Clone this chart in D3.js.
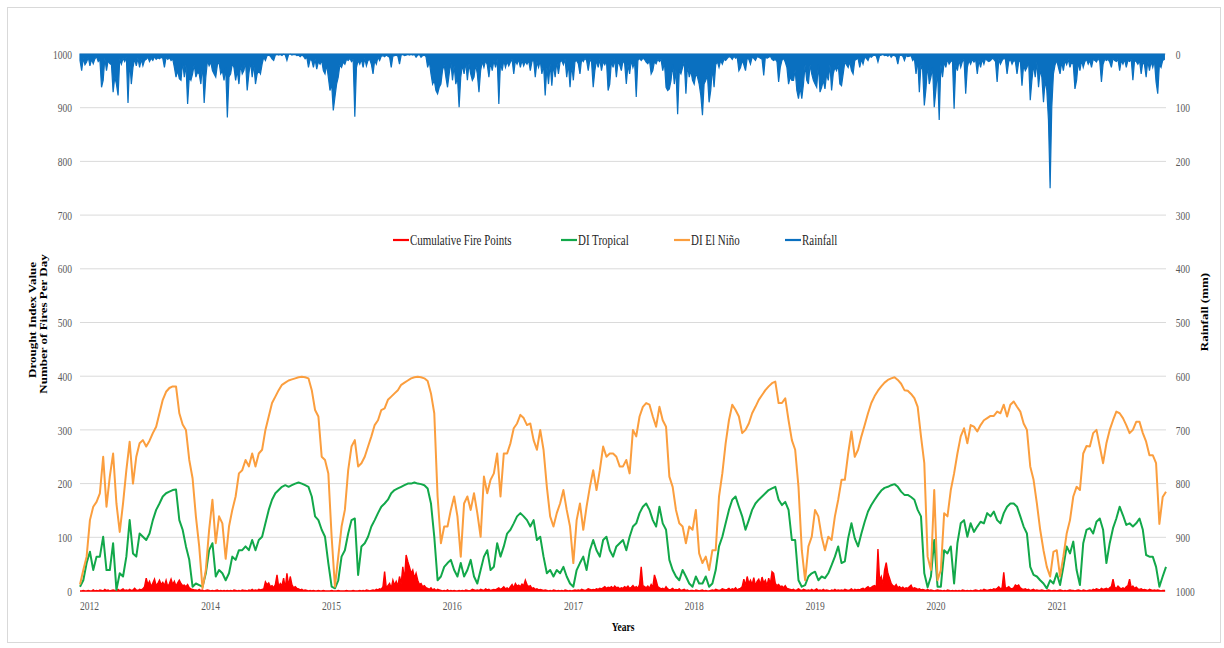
<!DOCTYPE html>
<html>
<head>
<meta charset="utf-8">
<style>
  body { margin: 0; background: #fff; }
  text { font-family: "Liberation Serif", "Times New Roman", serif; }
</style>
</head>
<body>
<svg width="1224" height="648"></svg>
<script src="https://cdnjs.cloudflare.com/ajax/libs/d3/7.8.5/d3.min.js"></script>
<script>
// series start and sampling steps (days)
var startDate = new Date(2012, 11, 4);
var diStep = 10;
var dailyStep = 5;

// drought index, read every 10 days
var diElNino = [
  12,39,64,132,157,166,182,250,157,213, 256,163,110,163,225,278,200,250,275,281,
  269,280,294,306,331,356,371,378,381,381, 331,310,300,244,210,139,83,5,39,114,
  170,89,139,126,60,120,151,176,219,225, 244,232,256,232,256,263,300,325,350,362,
  374,384,388,392,394,396,398,399,398,396, 374,337,325,250,244,219,101,8,64,120,
  151,225,269,281,232,238,250,269,288,309, 318,337,340,356,362,368,374,384,388,392,
  396,398,399,398,396,391,368,331,176,89,120,
  120,151,176,139,64,163,176,151,182,145, 101,213,182,207,219,256,176,256,256,275,
  303,312,328,322,309,312,281,263,300,263, 194,139,120,145,163,188,151,120,52,132,
  163,114,157,194,225,188,225,269,250,256, 256,250,232,232,244,219,300,288,325,343,
  350,347,325,306,343,318,306,213,194,151, 126,120,89,120,114,151,70,52,64,39,
  76,76,176,219,275,318,347,337,325,294, 300,312,331,343,356,365,374,381,387,390,
  350,350,359,318,281,263,194,76,20,83,
  101,151,139,101,76,101,95,139,170,207, 207,256,297,250,263,288,309,331,350,363,
  373,381,388,393,396,398,393,386,374,373, 367,359,343,288,238,64,39,188,20,39,
  145,139,188,219,256,288,303,275,309,306, 297,309,318,322,326,326,334,331,347,325,
  347,353,343,334,312,300,232,207,163,114, 76,45,27,73,76,27,64,107,132,176,
  194,188,256,270,269,294,300,269,238,275, 300,318,334,331,322,309,294,300,315,315,
  294,278,253,253,238,125,175,185
];
var diTropical = [
  8,20,52,73,39,64,64,101,39,39, 89,2,33,27,64,132,70,64,107,101,
  95,107,132,151,163,176,182,185,188,189, 132,114,83,58,8,14,11,8,33,76,
  89,27,39,33,20,33,64,58,76,76, 83,76,95,76,95,101,126,151,170,182,
  188,194,197,194,197,200,202,200,197,194, 176,139,132,114,101,52,8,5,20,64,
  76,107,132,135,30,83,89,101,120,132, 145,157,163,170,182,188,191,194,197,200,
  200,202,200,199,197,191,163,101,20,27,45,
  52,58,39,27,52,27,39,58,27,14, 39,64,76,39,45,89,64,83,107,114,
  126,139,145,139,132,120,132,95,101,64, 33,39,27,39,33,45,27,14,8,39,
  52,64,39,76,95,76,64,95,101,76, 64,83,89,95,76,101,120,126,145,157,
  163,151,132,120,157,126,114,58,39,27, 20,39,27,14,8,27,14,14,27,8,
  14,39,83,101,126,151,170,176,157,139, 114,132,151,163,170,176,182,188,191,194,
  170,160,166,151,95,95,20,8,11,27,
  33,36,20,27,24,33,48,64,83,52, 55,98,126,98,83,107,129,148,160,170,
  179,187,192,194,197,199,194,185,179,179, 175,170,151,139,33,7,27,95,8,8,
  76,70,83,14,89,126,132,101,126,110, 120,129,126,145,139,148,132,126,145,157,
  163,163,157,139,120,107,45,30,27,20, 14,5,20,14,33,11,45,83,70,92,
  39,11,89,114,117,107,129,135,114,52, 89,117,135,157,141,123,126,120,126,135,
  114,67,64,64,45,8,27,45
];

// rainfall (mm), read every 5 days
var rainfall = [
  12,31,8,20,15,6,22,10,18,9, 5,14,10,62,49,8,31,12,18,20, 71,43,56,77,10,19,8,14,6,91,
  12,56,25,9,22,8,25,10,22,12, 10,6,14,8,12,5,10,7,9,6, 8,25,6,10,7,12,9,25,43,31,
  46,49,15,43,20,93,43,49,37,20, 43,34,37,56,20,91,43,12,22,15, 31,37,43,20,15,37,31,49,25,118,
  43,37,18,25,49,31,56,20,37,31, 15,68,37,14,43,20,56,37,31,37, 19,6,12,3,2,4,9,12,2,1,
  2,1,3,0,2,12,1,0,2,1, 1,3,2,5,2,4,9,6,25,10, 12,25,10,28,14,19,12,31,37,20,
  43,68,56,105,80,56,43,20,25,15, 19,10,12,8,14,10,117,25,12,19, 10,25,8,22,12,10,19,37,12,19,
  6,12,4,3,5,2,4,6,25,4, 3,2,4,19,2,1,3,2,1,2, 1,2,1,6,2,1,6,3,2,5,
  25,14,37,56,49,68,74,62,56,30, 20,43,62,37,15,49,22,56,43,99, 43,20,37,15,49,18,37,49,43,20,
  37,71,31,14,25,12,20,43,15,31, 12,25,10,93,15,31,12,25,14,22, 15,10,37,12,19,10,25,12,22,14,
  19,12,31,14,10,43,15,25,12,37, 20,77,25,56,18,59,20,43,15,37, 15,12,20,10,43,18,62,20,49,14,
  12,18,37,10,14,8,12,31,10,15, 62,31,12,25,10,31,14,20,12,68, 56,14,25,10,43,15,20,31,12,18,
  56,20,37,12,25,15,80,12,8,12, 8,10,15,18,12,37,31,14,18,10, 14,10,31,15,62,68,65,49,20,56,
  30,112,31,37,25,15,74,20,43,31, 49,56,37,43,56,77,114,56,49,40, 90,68,25,62,20,14,25,12,19,10,
  12,8,5,6,10,4,8,6,31,25, 12,20,31,8,10,19,6,8,12,5, 6,8,10,40,5,8,6,4,10,12,
  10,14,52,25,12,8,15,25,56,43, 49,49,30,68,83,62,83,56,20,49, 56,20,37,49,56,62,20,71,62,49,
  65,37,49,20,68,37,25,31,20,56, 59,37,15,20,25,14,31,37,12,10, 8,25,10,19,6,8,12,4,6,3,
  2,4,15,3,2,1,3,2,4,1, 6,2,3,5,19,3,2,4,12,3, 5,4,3,12,8,37,10,71,20,30,
  96,65,20,56,43,25,99,68,30,123, 20,43,15,25,10,19,14,12,102,20, 31,12,25,14,10,74,25,12,19,10,
  15,10,37,12,25,10,19,8,12,14, 12,8,10,14,52,10,19,12,8,10, 37,14,10,19,12,14,37,15,12,59,
  20,31,25,14,86,49,20,43,15,62, 30,43,90,49,68,123,250,99,37,20, 12,25,37,15,31,12,20,10,25,14,
  20,65,49,15,31,12,25,14,10,19, 12,25,10,12,15,8,14,52,19,10, 12,10,15,25,8,12,14,10,31,12,
  19,10,25,12,14,10,49,12,14,19, 12,37,15,20,43,12,31,14,25,12, 52,74,20,25,12,10
];

// fires per day, read every 5 days
var firePoints = [
  0,0,1,0,0,1,0,0,2,0, 1,0,2,1,0,3,1,2,0,1, 2,1,0,3,1,2,4,1,2,1,
  3,1,2,5,2,1,3,2,4,8, 24,12,18,8,15,22,10,14,20,12, 16,10,20,8,14,22,12,18,9,15,
  20,14,10,11,8,12,6,4,3,2, 2,1,3,1,2,0,1,2,1,0, 1,0,1,2,0,1,0,1,0,1,
  0,1,0,2,1,0,1,0,2,1, 1,0,2,1,3,1,2,1,3,2, 3,4,17,12,15,8,10,6,12,30,
  8,14,10,24,5,33,9,27,12,6, 8,5,4,2,3,1,2,1,0,1, 0,1,0,0,1,0,0,1,0,0,
  0,0,1,0,0,0,1,0,0,0, 0,1,0,0,0,1,0,0,0,1, 0,1,0,2,1,0,1,2,1,3,
  2,4,3,8,36,6,10,14,5,20, 11,18,9,27,14,45,20,67,55,45, 33,39,24,33,20,12,14,8,10,6,
  5,3,6,2,4,1,3,2,1,0, 1,0,2,0,1,0,1,0,0,1, 0,1,0,2,1,0,1,3,2,1,
  2,1,3,2,1,4,2,3,1,2, 3,2,4,6,3,5,8,4,6,3, 8,12,6,14,9,11,8,13,10,20,
  12,8,10,5,6,3,4,2,3,2, 1,2,1,0,1,0,2,1,0,1, 0,1,0,2,1,0,1,0,1,2,
  1,2,1,3,2,1,2,4,3,2, 3,2,4,3,5,4,6,8,5,7, 6,8,5,9,6,7,4,6,5,8,
  6,9,5,7,10,6,8,5,12,45, 10,8,6,9,5,12,7,30,20,8, 6,4,5,3,8,4,2,3,5,2,
  3,2,4,1,2,3,1,2,0,1, 1,0,2,1,0,1,2,0,1,0, 0,1,2,1,3,2,1,2,4,3,
  2,3,5,2,4,3,6,2,4,5, 8,22,10,27,14,20,12,25,10,18, 22,12,26,15,20,10,24,13,36,33,
  14,10,12,8,9,6,10,5,4,3, 2,3,1,2,4,2,1,3,2,1, 2,1,3,1,2,4,1,2,1,3,
  1,2,1,0,2,1,3,1,2,1, 2,1,3,2,1,2,4,1,3,2, 3,2,4,5,3,6,8,5,7,9,
  10,6,78,20,27,12,39,53,33,24, 14,10,8,12,6,8,5,7,4,6, 5,8,11,4,6,5,3,4,2,3,
  2,1,3,1,2,1,0,1,2,1, 1,0,1,0,2,1,0,1,0,1, 0,1,0,2,1,0,1,0,1,0,
  1,2,1,0,2,1,3,2,1,2, 3,2,4,3,5,8,4,6,35,5, 6,8,5,4,6,11,9,11,6,4,
  3,4,2,3,1,2,3,1,2,1, 1,2,1,0,1,2,1,0,1,1, 0,1,2,1,0,1,0,1,2,1,
  1,0,1,2,1,0,2,1,0,1, 2,1,3,2,4,3,2,5,3,4, 5,3,6,8,22,7,5,9,6,4,
  6,4,8,10,22,6,9,5,7,4, 3,4,2,3,2,1,3,2,1,2, 1,2,1,0,1,1
];

var yearTickDates = ["2012-12-31","2014-01-01","2015-01-01","2016-01-01","2017-01-01",
                     "2018-01-01","2019-01-01","2020-01-01","2021-01-01"];
var yearTickLabels = ["2012","2014","2015","2016","2017","2018","2019","2020","2021"];
var leftTicks = [0,100,200,300,400,500,600,700,800,900,1000];
var rightTicks = [0,100,200,300,400,500,600,700,800,900,1000];

var seriesNames = ["Cumulative Fire Points", "DI Tropical", "DI El Niño", "Rainfall"];
var seriesColors = ["#ff0000", "#12a84a", "#fb9e3e", "#0a70c0"];

var svg = d3.select("svg");
var squeeze = "scale(0.73,1)";   // the original picture is squashed sideways

function dayOf(i, step) { return d3.timeDay.offset(startDate, i * step); }

var x = d3.scaleTime()
    .domain([startDate, dayOf(328, diStep)])
    .range([80, 1166]);
var yL = d3.scaleLinear().domain([0, 1000]).range([591, 54]);
var yR = d3.scaleLinear().domain([0, 1000]).range([54, 591]);

// frame
svg.append("rect")
    .attr("x", 7.5).attr("y", 7.5)
    .attr("width", 1213).attr("height", 635)
    .attr("fill", "none").attr("stroke", "#d9d9d9");

// gridlines
svg.append("g").selectAll("line")
  .data(leftTicks)
  .enter().append("line")
    .attr("x1", x.range()[0]).attr("x2", x.range()[1])
    .attr("y1", function(d) { return yL(d); })
    .attr("y2", function(d) { return yL(d); })
    .attr("stroke", "#dadada");

// axes
function styleAxis(g) {
  g.select(".domain").remove();
  g.attr("font-family", "Liberation Serif, Times New Roman, serif").attr("font-size", 13);
  g.selectAll("text").attr("fill", "#595959").attr("transform", squeeze);
}
svg.append("g")
    .attr("transform", "translate(80,0)")
    .call(d3.axisLeft(yL).tickValues(leftTicks).tickFormat(d3.format("d")).tickSize(0).tickPadding(11))
    .call(styleAxis);
svg.append("g")
    .attr("transform", "translate(1166,0)")
    .call(d3.axisRight(yR).tickValues(rightTicks).tickFormat(d3.format("d")).tickSize(0).tickPadding(13.5))
    .call(styleAxis);
svg.append("g")
    .attr("transform", "translate(0,591)")
    .call(d3.axisBottom(x)
        .tickValues(yearTickDates.map(function(s) { return d3.timeParse("%Y-%m-%d")(s); }))
        .tickFormat(function(d, i) { return yearTickLabels[i]; })
        .tickSize(0).tickPadding(10))
    .call(styleAxis);

// series
var diLine = d3.line()
    .x(function(d, i) { return x(dayOf(i, diStep)); })
    .y(function(d) { return yL(d); });
// daily series are dense spikes in the original, so fill them down to zero
var fireArea = d3.area()
    .x(function(d, i) { return x(dayOf(i, dailyStep)); })
    .y0(yL(0))
    .y1(function(d) { return yL(d); });
var rainArea = d3.area()
    .x(function(d, i) { return x(dayOf(i, dailyStep)); })
    .y0(yR(0))
    .y1(function(d) { return yR(d); });

svg.append("path").datum(firePoints)
    .attr("fill", seriesColors[0]).attr("stroke", seriesColors[0]).attr("stroke-width", 1.4)
    .attr("d", fireArea);
svg.append("path").datum(diTropical)
    .attr("fill", "none").attr("stroke", seriesColors[1]).attr("stroke-width", 2)
    .attr("stroke-linejoin", "round")
    .attr("d", diLine);
svg.append("path").datum(diElNino)
    .attr("fill", "none").attr("stroke", seriesColors[2]).attr("stroke-width", 2)
    .attr("stroke-linejoin", "round")
    .attr("d", diLine);
svg.append("path").datum(rainfall)
    .attr("fill", seriesColors[3]).attr("stroke", seriesColors[3]).attr("stroke-width", 1.2)
    .attr("d", rainArea);

// legend
var legendX = [393, 561, 674, 785];
var legend = svg.append("g").attr("transform", "translate(0,240)");
var item = legend.selectAll("g")
  .data(seriesNames)
  .enter().append("g")
    .attr("transform", function(d, i) { return "translate(" + legendX[i] + ",0)"; });
item.append("line")
    .attr("x1", 0).attr("x2", 16)
    .attr("stroke", function(d, i) { return seriesColors[i]; })
    .attr("stroke-width", 2.2);
item.append("text")
    .attr("transform", "translate(17,5) " + squeeze)
    .attr("font-size", 15)
    .attr("fill", "#262626")
    .text(function(d) { return d; });

// axis titles
svg.append("text")
    .attr("transform", "translate(36,320) " + squeeze + " rotate(-90)")
    .attr("text-anchor", "middle").attr("font-size", 13).attr("font-weight", "bold")
    .text("Drought Index Value");
svg.append("text")
    .attr("transform", "translate(46.5,324) " + squeeze + " rotate(-90)")
    .attr("text-anchor", "middle").attr("font-size", 13).attr("font-weight", "bold")
    .text("Number of Fires Per Day");
svg.append("text")
    .attr("transform", "translate(1208,312) " + squeeze + " rotate(-90)")
    .attr("text-anchor", "middle").attr("font-size", 13).attr("font-weight", "bold")
    .text("Rainfall (mm)");
svg.append("text")
    .attr("transform", "translate(623,631) " + squeeze)
    .attr("text-anchor", "middle").attr("font-size", 13).attr("font-weight", "bold")
    .text("Years");
</script>
</body>
</html>
